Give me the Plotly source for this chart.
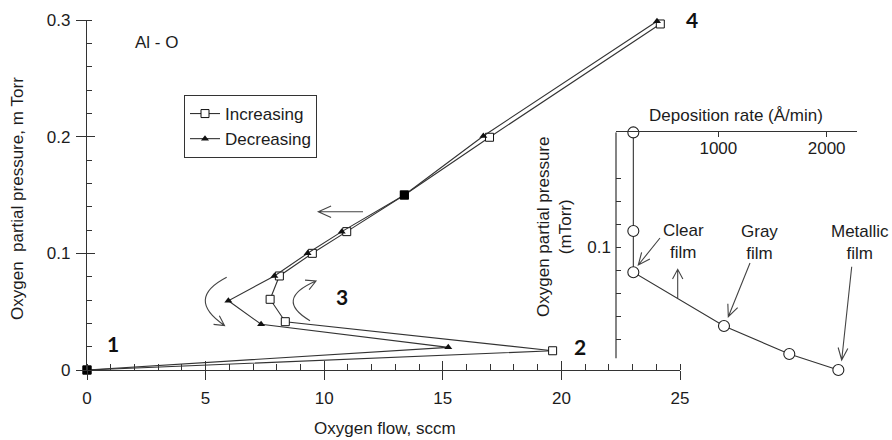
import math
import plotly.graph_objects as go

# ---------------- data ----------------
# Main chart: oxygen flow (sccm) vs oxygen partial pressure (mTorr)
inc_flow = [0, 19.63, 8.36, 7.72, 8.11, 9.50, 10.95, 13.38, 16.97, 24.17]
inc_pres = [0, 0.0165, 0.0414, 0.0606, 0.0806, 0.100, 0.1186, 0.150, 0.1995, 0.2966]

dec_flow = [24.03, 16.71, 13.38, 10.74, 9.30, 7.90, 5.96, 7.34, 15.23, 0]
dec_pres = [0.299, 0.2006, 0.150, 0.1186, 0.100, 0.0806, 0.0594, 0.0392, 0.0194, 0]
# points where both sweeps coincide (drawn as a filled square)
dec_shared = [False, False, True, False, False, False, False, False, False, True]

# Inset: deposition rate (A/min) vs oxygen partial pressure (mTorr)
rate = [215, 215, 215, 1052, 1655, 2108]
rate_pres = [0.2, 0.1142, 0.0783, 0.0316, 0.0072, -0.0067]

x_ticks = [0, 5, 10, 15, 20, 25]
y_ticks = [0, 0.1, 0.2, 0.3]
y_ticktext = ["0", "0.1", "0.2", "0.3"]
inset_x_ticks = [1000, 2000]
inset_y_ticks = [0.1, 0.2]
inset_y_minor = [0.02, 0.04, 0.06, 0.08, 0.12, 0.14, 0.16, 0.18]

# ---------------- layout helpers ----------------
W, H = 892, 440
FONT = "Liberation Sans, Arial, sans-serif"
BOLD = "Lato, Liberation Sans, sans-serif"
INK = "#1c1c1c"
LINE = "#333333"


def px(x):
    return x / W


def py(y):
    return 1 - y / H


def P(x, y):
    return f"{px(x):.5f},{py(y):.5f}"


def arrow_head(tail, tip, L=12, ang=25):
    dx, dy = tip[0] - tail[0], tip[1] - tail[1]
    n = math.hypot(dx, dy)
    ux, uy = dx / n, dy / n
    pts = []
    for s in (1, -1):
        a = math.radians(ang * s)
        rx = ux * math.cos(a) - uy * math.sin(a)
        ry = ux * math.sin(a) + uy * math.cos(a)
        pts.append((tip[0] - L * rx, tip[1] - L * ry))
    return f"M{P(*pts[0])} L{P(*tip)} L{P(*pts[1])}"


def straight_arrow(tail, tip, L=12, ang=25):
    return f"M{P(*tail)} L{P(*tip)} " + arrow_head(tail, tip, L, ang)


def curved_arrow(start, ctrl, end, L=11, ang=28):
    return f"M{P(*start)} Q{P(*ctrl)} {P(*end)} " + arrow_head(ctrl, end, L, ang)


fig = go.Figure()

fig.add_trace(go.Scatter(
    x=inc_flow, y=inc_pres, mode="lines+markers", name="Increasing",
    line=dict(color=LINE, width=1.1),
    marker=dict(symbol="square", size=8, color="white", line=dict(width=1, color="#111")),
    cliponaxis=False,
))
fig.add_trace(go.Scatter(
    x=dec_flow, y=dec_pres, mode="lines+markers", name="Decreasing",
    line=dict(color=LINE, width=1.1),
    marker=dict(symbol="triangle-up", size=7, color="#111", line=dict(width=0)),
    cliponaxis=False,
))
# coinciding points of both sweeps: filled squares
fig.add_trace(go.Scatter(
    x=[f for f, s in zip(dec_flow, dec_shared) if s],
    y=[p for p, s in zip(dec_pres, dec_shared) if s],
    mode="markers", showlegend=False, hoverinfo="skip",
    marker=dict(symbol="square", size=9, color="#000", line=dict(width=0)),
    cliponaxis=False,
))
fig.add_trace(go.Scatter(
    x=rate, y=rate_pres, mode="lines+markers", showlegend=False,
    xaxis="x2", yaxis="y2",
    line=dict(color=LINE, width=1.1),
    marker=dict(symbol="circle", size=11, color="white", line=dict(width=1.1, color="#222")),
    cliponaxis=False,
))
# empty trace so the overlay tick axes are rendered
fig.add_trace(go.Scatter(x=[], y=[], xaxis="x3", yaxis="y3", showlegend=False, hoverinfo="skip"))

main_x_dom = [px(87), px(680)]
main_y_dom = [py(370), py(20)]
ins_x_dom = [px(616), px(857.3)]
# inset: 0.2 at 132.3 px, 1150 px per mTorr
INSET_Y_LO = -0.0125
ins_y_dom = [py(362.3 - INSET_Y_LO * 1150), py(132.3)]

tickfont = dict(family=FONT, size=17, color=INK)

fig.update_layout(
    width=W, height=H, margin=dict(l=0, r=0, t=0, b=0, autoexpand=False),
    paper_bgcolor="white", plot_bgcolor="rgba(0,0,0,0)",
    font=dict(family=FONT, size=17, color=INK),
    showlegend=True,
    legend=dict(
        x=px(184), y=py(95), xanchor="left", yanchor="top",
        bordercolor="#333", borderwidth=1, bgcolor="white",
        font=dict(family=FONT, size=17, color=INK),
        tracegroupgap=6, itemwidth=30, traceorder="normal",
    ),
    xaxis=dict(
        domain=main_x_dom, range=[0, 25], anchor="y", automargin=False,
        showgrid=False, zeroline=False, showline=True, linecolor=LINE, linewidth=1.2,
        tickvals=x_ticks, ticks="outside", ticklen=9, tickcolor=LINE, tickwidth=1.2,
        tickfont=tickfont, ticklabelstandoff=3,
        minor=dict(ticks="inside", dtick=1, ticklen=6, tickcolor=LINE, tickwidth=1),
    ),
    yaxis=dict(
        domain=main_y_dom, range=[0, 0.3], anchor="x", automargin=False,
        showgrid=False, zeroline=False, showline=True, linecolor=LINE, linewidth=1.2,
        tickvals=y_ticks, ticktext=y_ticktext,
        ticks="outside", ticklen=10, tickcolor=LINE, tickwidth=1.2,
        tickfont=tickfont, ticklabelstandoff=2,
        minor=dict(ticks="inside", dtick=0.02, ticklen=5, tickcolor=LINE, tickwidth=1),
    ),
    # overlay axes draw the inner half of the crossing major ticks
    xaxis3=dict(
        overlaying="x", anchor="y", range=[0, 25], side="bottom", automargin=False,
        showgrid=False, zeroline=False, showline=False, showticklabels=False,
        tickvals=x_ticks, ticks="inside", ticklen=9, tickcolor=LINE, tickwidth=1.2,
    ),
    yaxis3=dict(
        overlaying="y", anchor="x", range=[0, 0.3], side="left", automargin=False,
        showgrid=False, zeroline=False, showline=False, showticklabels=False,
        tickvals=y_ticks, ticks="inside", ticklen=8, tickcolor=LINE, tickwidth=1.2,
    ),
    xaxis2=dict(
        domain=ins_x_dom, range=[55, 2283], anchor="y2", side="top", automargin=False,
        showgrid=False, zeroline=False, showline=True, linecolor=LINE, linewidth=1.2,
        tickvals=inset_x_ticks, ticks="inside", ticklen=5, tickcolor=LINE, tickwidth=1.2,
        ticklabelposition="inside", tickfont=tickfont, ticklabelstandoff=5,
    ),
    yaxis2=dict(
        domain=ins_y_dom, range=[INSET_Y_LO, 0.2001], anchor="x2", automargin=False,
        showgrid=False, zeroline=False, showline=False,
        tickvals=inset_y_ticks, ticktext=["0.1", "0.2"],
        ticks="inside", ticklen=5, tickcolor=LINE, tickwidth=1.2,
        tickfont=tickfont, ticklabelstandoff=4,
        minor=dict(ticks="inside", tickvals=inset_y_minor, ticklen=5, tickcolor=LINE, tickwidth=1),
    ),
)

ann = []


def text(x, y, s, size=17, bold=False, family=FONT, angle=0):
    ann.append(dict(
        x=px(x), y=py(y), xref="paper", yref="paper", text=s, showarrow=False,
        xanchor="center", yanchor="middle", textangle=angle,
        font=dict(family=family, size=size, color="#111" if bold else INK,
                  weight="bold" if bold else "normal"),
    ))


text(385, 428, "Oxygen flow, sccm")
text(17, 199, "Oxygen\u00a0 partial pressure, m\u00a0Torr", angle=-90)
text(156, 42, "Al - O")
text(113, 343, "1", size=21, bold=True, family=BOLD)
text(580, 346, "2", size=21, bold=True, family=BOLD)
text(342, 296, "3", size=21, bold=True, family=BOLD)
text(692, 19, "4", size=21, bold=True, family=BOLD)

# inset texts
text(736, 115, "Deposition rate (Å/min)")
text(555, 227, "Oxygen partial pressure<br>(mTorr)", angle=-90)
text(683, 241, "Clear<br>film")
text(759, 242, "Gray<br>film")
text(860, 242, "Metallic<br>film")

fig.update_layout(annotations=ann)

shape_style = dict(type="path", xref="paper", yref="paper",
                   line=dict(color="#444", width=1.1))
paths = [
    straight_arrow((363, 211.7), (318.3, 211.7), L=14, ang=24),
    curved_arrow((226.7, 277.3), (185, 298.8), (224.5, 325.5)),
    curved_arrow((310, 320.7), (273.6, 299.2), (316, 281)),
    straight_arrow((660, 238), (638.3, 265), L=13, ang=24),
    straight_arrow((750, 263), (728.3, 316.7), L=13, ang=24),
    straight_arrow((851.7, 266.7), (841.7, 360), L=13, ang=22),
    straight_arrow((677.7, 298.3), (677.7, 269.3), L=11, ang=28),
]
shapes = [dict(path=p, **shape_style) for p in paths]
# inset y-axis line (stops short of the last point like the original)
shapes.append(dict(type="line", xref="x2 domain", yref="y2", x0=0, x1=0,
                   y0=0.0035, y1=0.2001, line=dict(color=LINE, width=1.2)))
fig.update_layout(shapes=shapes)

fig.write_html("out.html")
